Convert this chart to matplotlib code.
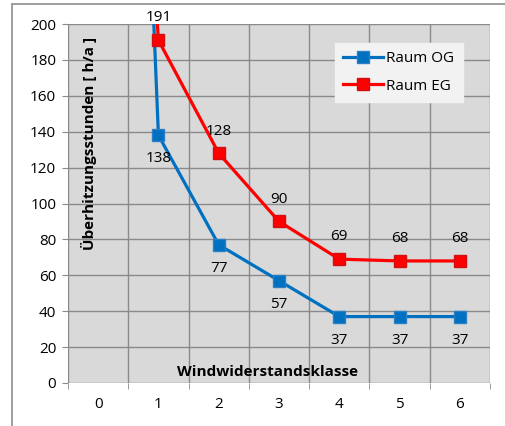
import matplotlib
matplotlib.use("Agg")
import matplotlib.pyplot as plt
from matplotlib.patches import Rectangle

# Wind resistance classes and simulated overheating hours
klassen = [0, 1, 2, 3, 4, 5, 6]
raum_og = [950, 138, 77, 57, 37, 37, 37]
raum_eg = [700, 191, 128, 90, 69, 68, 68]
y_ticks = [0, 20, 40, 60, 80, 100, 120, 140, 160, 180, 200]

plt.rcParams["font.family"] = ["Open Sans", "DejaVu Sans"]

W, H = 505, 426
fig = plt.figure(figsize=(W / 100, H / 100), dpi=100)
fig.patch.set_facecolor("white")

# chart area border (extends past the lower/right edge)
fig.patches.append(Rectangle((12 / W, 1 - 430 / H), 520 / W, 426 / H,
                             transform=fig.transFigure, fill=False,
                             edgecolor="#8c8c8c", lw=1.2))

left, right, top, bottom = 68, 490, 24, 383
ax = fig.add_axes([left / W, 1 - bottom / H, (right - left) / W, (bottom - top) / H])
ax.set_facecolor("#d9d9d9")
ax.set_xlim(-0.5, 6.5)
ax.set_ylim(0, 200)

grid_c = "#8a8a8a"
for xv in [k - 0.5 for k in klassen] + [6.5]:
    ax.axvline(xv, color=grid_c, lw=1.0, zorder=1)
for yv in y_ticks:
    ax.axhline(yv, color=grid_c, lw=1.0, zorder=1)

for s in ax.spines.values():
    s.set_visible(False)

fs = 11
ax.set_yticks(y_ticks)
ax.set_xticks(klassen)
ax.set_xticks([k - 0.5 for k in klassen] + [6.5], minor=True)
ax.tick_params(axis="y", length=4, color=grid_c, labelsize=fs, pad=4.5, labelcolor="#000000")
ax.tick_params(axis="x", which="major", length=0, labelsize=fs, pad=10)
ax.tick_params(axis="x", which="minor", length=4, color=grid_c)

blue = "#0070c0"
red = "#ff0000"
ax.plot(klassen, raum_og, color=blue, lw=2.3, marker="s", ms=8,
        markerfacecolor=blue, markeredgecolor="#2a7fc6", zorder=3, label="Raum OG")
ax.plot(klassen, raum_eg, color=red, lw=2.3, marker="s", ms=8,
        markerfacecolor=red, markeredgecolor="#d01010", zorder=4, label="Raum EG")

for k, v in zip(klassen, raum_og):
    if v <= 200:
        ax.annotate(str(v), (k, v), xytext=(0, -17), textcoords="offset points",
                    ha="center", va="center", fontsize=fs, zorder=5)
for k, v in zip(klassen, raum_eg):
    if v <= 200:
        ax.annotate(str(v), (k, v), xytext=(0, 16), textcoords="offset points",
                    ha="center", va="center", fontsize=fs, zorder=5)

ax.text(0.05, 0.965, "Überhitzungsstunden [ h/a ]", transform=ax.transAxes,
        rotation=90, ha="center", va="top", fontsize=11, fontweight="bold")
ax.text(2.81, 6, "Windwiderstandsklasse", ha="center", va="center",
        fontsize=11, fontweight="bold")

leg = ax.legend(loc="upper left", bbox_to_anchor=((335 - left) / (right - left), 1 - (43 - top) / (bottom - top)),
                frameon=True, fontsize=fs, handlelength=2.6, borderpad=0.55,
                labelspacing=0.8, handletextpad=0.2, borderaxespad=0)
leg.get_frame().set_facecolor("#f2f2f2")
leg.get_frame().set_edgecolor("#f2f2f2")
leg.get_frame().set_alpha(1)
leg.get_frame().set_boxstyle("square", pad=0)

fig.savefig("out.png", dpi=100)
